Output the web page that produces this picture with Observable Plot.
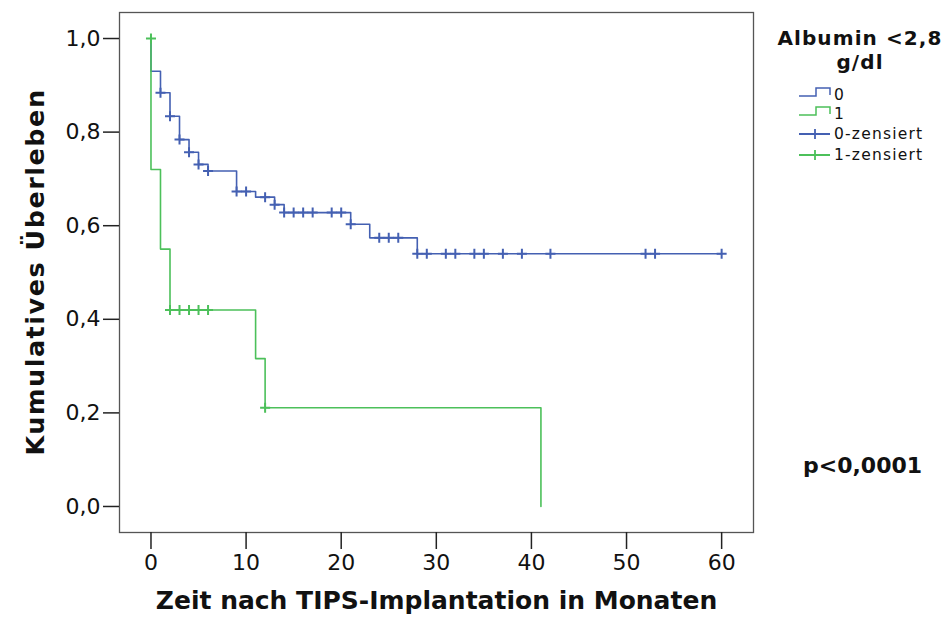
<!DOCTYPE html>
<html>
<head>
<meta charset="utf-8">
<script src="https://cdn.jsdelivr.net/npm/d3@7"></script>
<script src="https://cdn.jsdelivr.net/npm/@observablehq/plot@0.6"></script>
<style>
  html, body { margin: 0; padding: 0; background: #fff; }
  #wrap { position: relative; width: 950px; height: 625px; font-family: "DejaVu Sans", sans-serif; color: #111; }
  #wrap svg { display: block; }
  .legtitle { position: absolute; left: 760px; width: 200px; text-align: center; font-weight: bold; font-size: 20px; line-height: 24px; letter-spacing: 1.1px; white-space: nowrap; }
  .legrow { position: absolute; left: 797px; height: 18px; display: flex; align-items: center; font-size: 15.5px; line-height: 18px; letter-spacing: 1.2px; white-space: nowrap; }
  .legrow svg { margin-right: 3px; }
  .pval { position: absolute; left: 803px; top: 452px; font-weight: bold; font-size: 22px; line-height: 28px; }
  .ytitle { position: absolute; left: 35px; top: 272px; transform: translate(-50%, -50%) rotate(-90deg); font-weight: bold; font-size: 25.5px; line-height: 30px; letter-spacing: 1.5px; white-space: nowrap; }
</style>
</head>
<body>
<div id="wrap"></div>
<script>
// ---- Data ----
const groupLabels = ["0", "1"];
const censorLabels = ["0-zensiert", "1-zensiert"];
const legendTitle = ["Albumin <2,8", "g/dl"];
const pText = "p<0,0001";
const xTitle = "Zeit nach TIPS-Implantation in Monaten";
const yTitle = "Kumulatives Überleben";
const xTicks = [0, 10, 20, 30, 40, 50, 60];
const yTicks = [0, 0.2, 0.4, 0.6, 0.8, 1.0];

// Group 0 (blue) step curve
const blueTime = [0, 0, 1, 2, 3, 4, 5, 6, 9, 11, 13, 14, 21, 23, 28, 60];
const blueSurv = [1.0, 0.93, 0.884, 0.834, 0.784, 0.757, 0.731, 0.717, 0.673, 0.661, 0.645, 0.628, 0.603, 0.574, 0.54, 0.54];
// Group 0 censored
const blueCensTime = [1, 2, 3, 4, 5, 6, 9, 10, 12, 13, 14, 15, 16, 17, 19, 20, 21, 24, 25, 26, 28, 29, 31, 32, 34, 35, 37, 39, 42, 52, 53, 60];
const blueCensSurv = [0.884, 0.834, 0.784, 0.757, 0.731, 0.717, 0.673, 0.673, 0.661, 0.645, 0.628, 0.628, 0.628, 0.628, 0.628, 0.628, 0.603, 0.574, 0.574, 0.574, 0.54, 0.54, 0.54, 0.54, 0.54, 0.54, 0.54, 0.54, 0.54, 0.54, 0.54, 0.54];

// Group 1 (green) step curve
const greenTime = [0, 0, 1, 2, 11, 12, 41, 41];
const greenSurv = [1.0, 0.72, 0.55, 0.42, 0.316, 0.211, 0.211, 0.0];
// Group 1 censored
const greenCensTime = [0, 2, 3, 4, 5, 6, 12];
const greenCensSurv = [1.0, 0.42, 0.42, 0.42, 0.42, 0.42, 0.211];

const colors = ["#4460b2", "#4cc05a"];

// ---- Build tables ----
const blueLine = blueTime.map((t, i) => ({t, s: blueSurv[i]}));
const greenLine = greenTime.map((t, i) => ({t, s: greenSurv[i]}));
const blueCens = blueCensTime.map((t, i) => ({t, s: blueCensSurv[i]}));
const greenCens = greenCensTime.map((t, i) => ({t, s: greenCensSurv[i]}));

const plusSymbol = {
  draw(ctx, size) {
    const r = Math.sqrt(size / Math.PI);
    ctx.moveTo(-r, 0); ctx.lineTo(r, 0);
    ctx.moveTo(0, -r); ctx.lineTo(0, r);
  }
};

const chart = Plot.plot({
  width: 950,
  height: 625,
  marginLeft: 119,
  marginRight: 197,
  marginTop: 12,
  marginBottom: 93,
  style: {fontFamily: "DejaVu Sans", fontSize: "22px", color: "#222", background: "white"},
  x: {domain: [-3.31, 63.35]},
  y: {domain: [-0.0556, 1.0556]},
  marks: [
    Plot.frame({stroke: "#555", strokeWidth: 1.3}),
    Plot.axisX({ticks: xTicks, tickSize: 17, tickPadding: 5, label: null, strokeWidth: 1.5, fill: "#111"}),
    Plot.axisY({ticks: yTicks, tickSize: 16, tickPadding: 3, label: null, strokeWidth: 1.5, fill: "#111",
      tickFormat: d => d.toFixed(1).replace(".", ",")}),
    Plot.line(blueLine, {x: "t", y: "s", curve: "step-after", stroke: colors[0], strokeWidth: 1.6}),
    Plot.line(greenLine, {x: "t", y: "s", curve: "step-after", stroke: colors[1], strokeWidth: 1.6}),
    Plot.dot(blueCens, {x: "t", y: "s", symbol: plusSymbol, r: 5, fill: "none", stroke: colors[0], strokeWidth: 2}),
    Plot.dot(greenCens, {x: "t", y: "s", symbol: plusSymbol, r: 5, fill: "none", stroke: colors[1], strokeWidth: 2}),
    Plot.text([xTitle], {frameAnchor: "bottom", dy: 76, fontSize: 25, fontWeight: "bold", fill: "#111"})
  ]
});

const wrap = document.getElementById("wrap");
wrap.appendChild(chart);

// ---- Y title (rotated HTML text) ----
const yt = document.createElement("div");
yt.className = "ytitle";
yt.textContent = yTitle;
wrap.appendChild(yt);

// ---- Legend (HTML, beside the plot) ----
legendTitle.forEach((s, i) => {
  const d = document.createElement("div");
  d.className = "legtitle";
  d.style.top = (26 + i * 24) + "px";
  d.textContent = s;
  wrap.appendChild(d);
});

const rows = [
  {label: groupLabels[0], color: colors[0], kind: "step", cy: 95},
  {label: groupLabels[1], color: colors[1], kind: "step", cy: 113.5},
  {label: censorLabels[0], color: colors[0], kind: "cens", cy: 134},
  {label: censorLabels[1], color: colors[1], kind: "cens", cy: 155}
];
for (const r of rows) {
  const div = document.createElement("div");
  div.className = "legrow";
  div.style.top = (r.cy - 9) + "px";
  const icon = r.kind === "step"
    ? `<svg width="34" height="18"><path d="M2,10H19V2H33V9" fill="none" stroke="${r.color}" stroke-width="1.5"/></svg>`
    : `<svg width="34" height="18"><path d="M2,9H33M18,4V14" fill="none" stroke="${r.color}" stroke-width="1.8"/></svg>`;
  div.innerHTML = icon + `<span>${r.label}</span>`;
  wrap.appendChild(div);
}

const p = document.createElement("div");
p.className = "pval";
p.textContent = pText;
wrap.appendChild(p);
</script>
</body>
</html>
